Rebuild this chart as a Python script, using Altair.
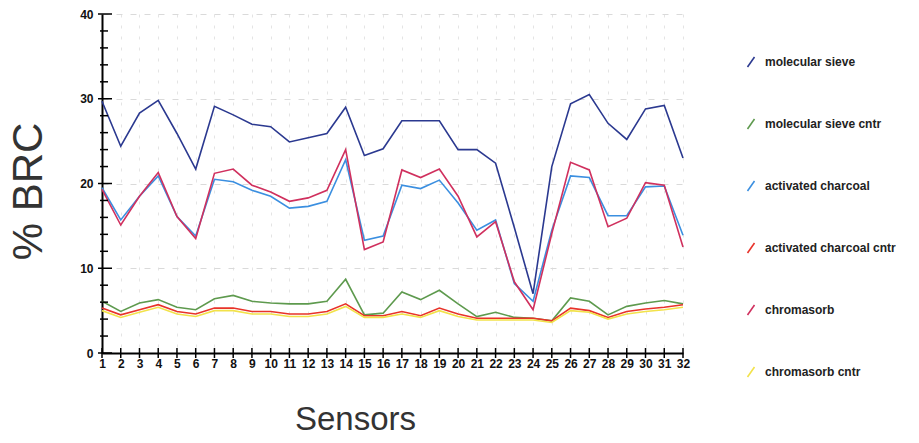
import altair as alt
import pandas as pd

sensors = list(range(1, 33))

series_names = [
    "molecular sieve",
    "molecular sieve cntr",
    "activated charcoal",
    "activated charcoal cntr",
    "chromasorb",
    "chromasorb cntr",
]
series_colors = ["#2b3990", "#5e9a4e", "#3b8fe0", "#e8332a", "#d0305e", "#f2e24a"]

mol_sieve = [29.7, 24.4, 28.3, 29.8, 25.9, 21.7, 29.1, 28.1, 27.0, 26.7, 24.9, 25.4, 25.9, 29.0, 23.3, 24.1,
             27.4, 27.4, 27.4, 24.0, 24.0, 22.4, 14.8, 7.0, 22.0, 29.4, 30.5, 27.1, 25.2, 28.8, 29.2, 23.0]
mol_sieve_cntr = [6.1, 4.9, 5.9, 6.3, 5.4, 5.1, 6.4, 6.8, 6.1, 5.9, 5.8, 5.8, 6.1, 8.7, 4.5, 4.7,
                  7.2, 6.3, 7.4, 5.8, 4.3, 4.8, 4.2, 4.1, 3.8, 6.5, 6.1, 4.5, 5.5, 5.9, 6.2, 5.8]
act_charcoal = [19.5, 15.7, 18.5, 20.9, 16.1, 13.8, 20.5, 20.2, 19.2, 18.5, 17.1, 17.3, 17.9, 22.8, 13.3, 13.8,
                19.8, 19.4, 20.4, 17.7, 14.5, 15.7, 8.2, 6.1, 14.5, 20.9, 20.7, 16.2, 16.2, 19.6, 19.7, 13.9]
act_charcoal_cntr = [5.3, 4.5, 5.1, 5.7, 4.9, 4.6, 5.3, 5.3, 4.9, 4.9, 4.6, 4.6, 4.9, 5.8, 4.4, 4.4,
                     4.9, 4.4, 5.3, 4.6, 4.1, 4.1, 4.1, 4.1, 3.8, 5.3, 5.0, 4.2, 4.9, 5.2, 5.4, 5.7]
chromasorb = [19.3, 15.1, 18.5, 21.3, 16.1, 13.5, 21.2, 21.7, 19.8, 19.0, 17.9, 18.3, 19.2, 24.0, 12.2, 13.1,
              21.6, 20.7, 21.7, 18.5, 13.7, 15.5, 8.4, 5.1, 14.1, 22.5, 21.6, 14.9, 15.9, 20.1, 19.8, 12.5]
chromasorb_cntr = [5.0, 4.2, 4.8, 5.4, 4.6, 4.3, 5.0, 5.0, 4.6, 4.6, 4.3, 4.3, 4.6, 5.5, 4.2, 4.2,
                   4.6, 4.2, 5.0, 4.3, 3.9, 3.9, 3.9, 3.9, 3.6, 5.0, 4.8, 4.0, 4.6, 4.9, 5.1, 5.4]

series_values = [mol_sieve, mol_sieve_cntr, act_charcoal, act_charcoal_cntr, chromasorb, chromasorb_cntr]

y_labels = [0, 10, 20, 30, 40]
y_minor_ticks = [2, 4, 6, 8, 12, 14, 16, 18, 22, 24, 26, 28, 32, 34, 36, 38]

rows = []
for name, vals in zip(series_names, series_values):
    for s, v in zip(sensors, vals):
        rows.append({"sensor": s, "brc": v, "series": name})
df = pd.DataFrame(rows)

x_scale = alt.Scale(domain=[1, 32], nice=False, zero=False)
y_scale = alt.Scale(domain=[0, 40], nice=False)

x_axis = alt.Axis(
    values=sensors, title="Sensors", ticks=False, labelOverlap=False, labelFlush=False,
    labelFont="Liberation Sans", labelFontSize=12, labelFontWeight="bold", labelColor="#111",
    labelPadding=5, domainColor="#000", domainWidth=2,
    grid=True, gridColor="#e4e4e4", gridDash=[3, 8], gridWidth=1,
    titleFont="Liberation Sans", titleFontSize=33, titleFontWeight="normal", titleColor="#333",
    titleX=253, titleY=76, titleBaseline="alphabetic", titleAlign="center",
)
y_axis = alt.Axis(
    values=y_labels, title="% BRC", ticks=False, labelOverlap=False,
    labelFont="Liberation Sans", labelFontSize=12, labelFontWeight="bold", labelColor="#111",
    labelPadding=9, domainColor="#000", domainWidth=2,
    grid=True, gridColor="#dadada", gridDash=[6, 8], gridWidth=1,
    titleFont="Liberation Sans", titleFontSize=42, titleFontWeight="normal", titleColor="#333",
    titleX=-74, titleY=177, titleAngle=270, titleAlign="center", titleBaseline="middle",
)

lines = alt.Chart(df).mark_line(strokeWidth=1.6).encode(
    x=alt.X("sensor:Q", scale=x_scale, axis=x_axis),
    y=alt.Y("brc:Q", scale=y_scale, axis=y_axis),
    color=alt.Color(
        "series:N",
        scale=alt.Scale(domain=series_names, range=series_colors),
        legend=alt.Legend(
            title=None, orient="none", legendX=643, legendY=42, direction="vertical",
            symbolType="M-0.7,1L0.7,-1", symbolSize=100, symbolStrokeWidth=1.6,
            labelFont="Liberation Sans", labelFontSize=12, labelFontWeight="bold", labelColor="#222",
            labelOffset=8, rowPadding=44, labelLimit=200,
        ),
    ),
)

x_ticks = alt.Chart(pd.DataFrame({"sensor": sensors})).mark_rule(
    strokeWidth=1.5, color="#000", yOffset=-5, y2Offset=5
).encode(
    x=alt.X("sensor:Q", scale=x_scale, axis=x_axis),
    y=alt.YDatum(0, scale=y_scale, axis=y_axis),
    y2=alt.datum(0),
)

y_minor = alt.Chart(pd.DataFrame({"v": y_minor_ticks})).mark_rule(
    strokeWidth=1.5, color="#000", xOffset=-2, x2Offset=6
).encode(
    y=alt.Y("v:Q", scale=y_scale, axis=y_axis),
    x=alt.XDatum(1, scale=x_scale, axis=x_axis),
    x2=alt.datum(1),
)

y_major = alt.Chart(pd.DataFrame({"v": y_labels})).mark_rule(
    strokeWidth=1.5, color="#000", xOffset=-4, x2Offset=10
).encode(
    y=alt.Y("v:Q", scale=y_scale, axis=y_axis),
    x=alt.XDatum(1, scale=x_scale, axis=x_axis),
    x2=alt.datum(1),
)

chart = alt.layer(lines, x_ticks, y_minor, y_major).properties(
    width=581,
    height=339,
    autosize=alt.AutoSizeParams(type="none"),
    padding={"left": 102, "top": 14, "right": 236, "bottom": 90},
    background="white",
).configure_view(stroke=None)

chart.save("out.html", embed_options={"renderer": "svg", "actions": False})
